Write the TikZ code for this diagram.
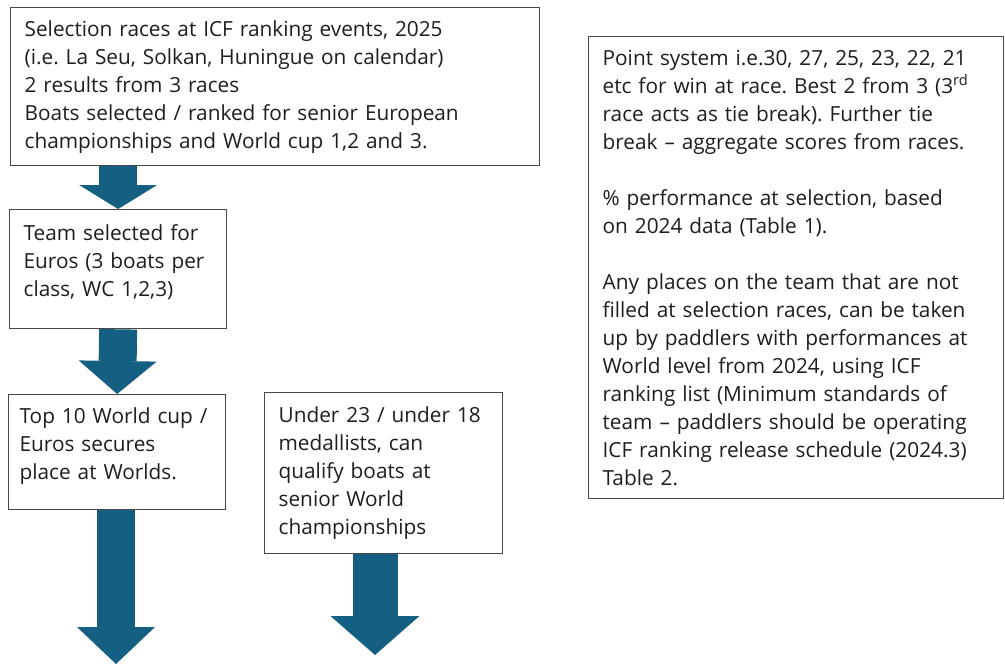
\documentclass[tikz,border=0pt]{standalone}
\usepackage{fontspec}
\setmainfont{Open Sans}
\usepackage{xcolor}
\definecolor{flowblue}{HTML}{156082}
\definecolor{edge}{HTML}{474747}
\definecolor{ink}{HTML}{1E1E1E}
\usetikzlibrary{arrows.meta,calc}
\tikzset{
  every picture/.style={font=\fontsize{20.8}{28}\selectfont\frenchspacing, line width=1.3pt, x=1pt, y=1pt},
  panel/.style 2 args={draw=edge, fill=white, text=ink, align=left, anchor=north west,
    inner xsep=14pt, inner ysep=0pt, text width=#1, minimum height=#2},
  flow/.style n args={3}{draw=flowblue, line width=#1,
    -{Triangle[length=#2, width=#3, line width=0pt]}},
}

\begin{document}
\begin{tikzpicture}
  \useasboundingbox (0,0) rectangle (1005,-665);
  \node[panel={501pt}{158pt}] (races) at (10,-7) {Selection races at ICF ranking events, 2025\\
    (i.e. La Seu, Solkan, Huningue on calendar)\\
    2 results from 3 races\\
    Boats selected / ranked for senior European\\
    championships and World cup 1,2 and 3.};
  \node[panel={189pt}{119pt}] (euros) at (9,-209) {Team selected for\\
    Euros (3 boats per\\
    class, WC 1,2,3)\\[-10pt]\mbox{}};
  \node[panel={195pt}{115pt}, inner xsep=11pt] (top10) at (8,-394) {\mbox{Top 10 World cup /}\\
    Euros secures\\
    place at Worlds.\\[-10pt]\mbox{}};
  \node[panel={210pt}{161pt}] (u23) at (264,-392) {\mbox{Under 23 / under 18}\\
    medallists, can\\
    qualify boats at\\
    senior World\\
    championships};
  \node[panel={387pt}{462pt}] (points) at (588,-36) {Point system i.e.30, 27, 25, 23, 22, 21\\
    etc for win at race. Best 2 from 3 (3\textsuperscript{rd}\\
    race acts as tie break). Further tie\\
    break \textendash{} aggregate scores from races.\\[28pt]
    \% performance at selection, based\\
    on 2024 data (Table 1).\\[28pt]
    Any places on the team that are not\\
    filled at selection races, can be taken\\
    up by paddlers with performances at\\
    World level from 2024, using ICF\\
    ranking list (Minimum standards of\\
    team \textendash{} paddlers should be operating\\
    ICF ranking release schedule (2024.3)\\
    Table 2.};
  \coordinate (worlds) at (116,-664);
  \coordinate (seniors) at (375,-655);
  \draw[flow={38pt}{24pt}{78pt}] (races.south -| euros.north) -- (euros.north);
  \draw[flow={38pt}{33pt}{78pt}] (euros.south) -- (top10.north);
  \draw[flow={38pt}{37pt}{78pt}] (top10.south -| worlds) -- (worlds);
  \draw[flow={45pt}{39pt}{89pt}] (u23.south -| seniors) -- (seniors);
\end{tikzpicture}
\end{document}
